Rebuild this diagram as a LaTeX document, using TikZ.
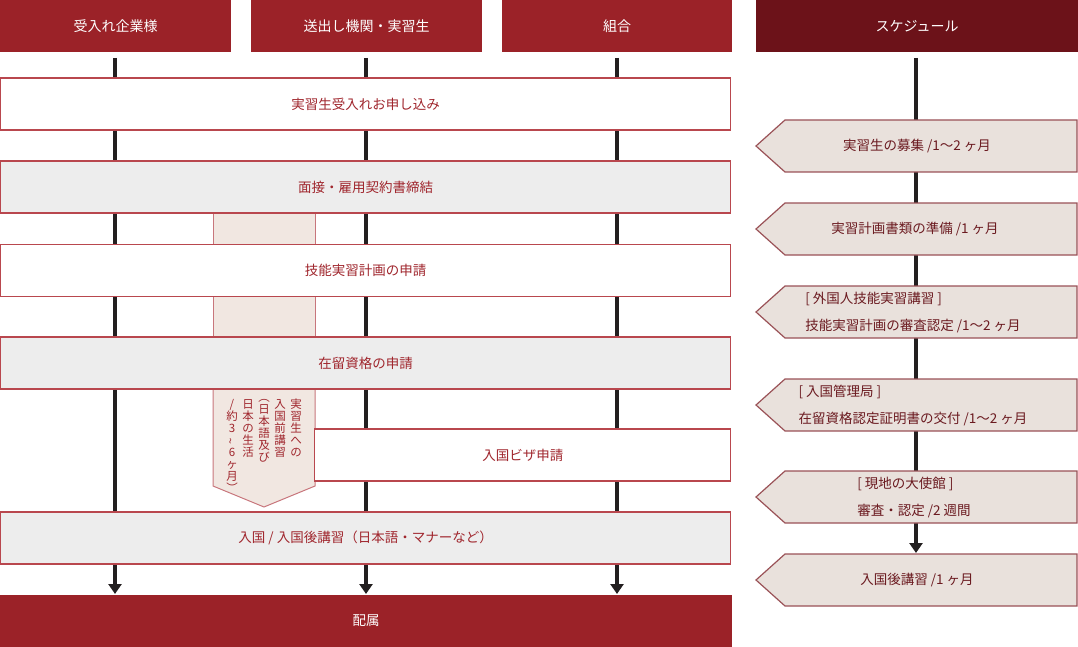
\documentclass[tikz,border=0pt]{standalone}
\usepackage{fontspec}
\setmainfont{Noto Sans CJK JP}
\usetikzlibrary{arrows.meta}
\pgfdeclarelayer{background}
\pgfsetlayers{background,main}
\definecolor{hdred}{HTML}{9B2228}
\definecolor{hddark}{HTML}{6C1219}
\definecolor{boxtext}{HTML}{A0262D}
\definecolor{boxline}{HTML}{B9474E}
\definecolor{boxgray}{HTML}{EDEDED}
\definecolor{pinkfill}{HTML}{F1E7E1}
\definecolor{pinkline}{HTML}{C8767C}
\definecolor{schedfill}{HTML}{E9E1DC}
\definecolor{schedline}{HTML}{9A5257}
\definecolor{schedtext}{HTML}{6B1A20}
\definecolor{linedark}{HTML}{231F20}
\begin{document}
\begin{tikzpicture}[x=1pt,y=-1pt,
  hdr/.style={fill=hdred, text=white, minimum height=52pt, inner sep=0pt, outer sep=0pt, font=\fontsize{14}{16}\selectfont},
  flowbox/.style={draw=boxline, line width=1.2pt, minimum width=730pt, minimum height=52pt, inner sep=0pt, outer sep=0pt, text=boxtext, font=\fontsize{13.5}{16}\selectfont},
  whitebox/.style={flowbox, fill=white},
  graybox/.style={flowbox, fill=boxgray},
  vline/.style={draw=linedark, line width=4pt},
  vlinearrow/.style={vline, -{Triangle[width=13pt,length=10pt]}, shorten >=1pt},
  pinkcol/.style={fill=pinkfill, draw=pinkline, line width=1pt},
  schedbody/.style={minimum width=292pt, minimum height=52pt, inner sep=0pt, outer sep=0pt},
  schedshape/.style={fill=schedfill, draw=schedline, line width=1.2pt},
  schedlabel/.style={text=schedtext, font=\fontsize{13.5}{27}\selectfont, align=left, inner sep=0pt},
  vtext/.style={text=boxtext, font=\fontsize{11.5}{12}\selectfont, align=center, inner sep=0pt, anchor=north}
]
\useasboundingbox (0,0) rectangle (1078,647);

% headers
\node[hdr, minimum width=231pt] (h1) at (115.5,26) {受入れ企業様};
\node[hdr, minimum width=231pt] (h2) at (366.5,26) {送出し機関・実習生};
\node[hdr, minimum width=230pt] (h3) at (617,26) {組合};
\node[hdr, fill=hddark, minimum width=322pt] (h4) at (917,26) {スケジュール};

% pink column pieces and pre-entry arrow
\draw[pinkcol] (213,213) rectangle (315,245);
\draw[pinkcol] (213,296) rectangle (315,337);
\draw[pinkcol] (213,388) -- (315,388) -- (315,486) -- (264,507) -- (213,486) -- cycle;

% flow boxes
\node[whitebox] (b1) at (365.6,104) {実習生受入れお申し込み};
\node[graybox] (b2) at (365.6,187) {面接・雇用契約書締結};
\node[whitebox] (b3) at (365.6,270.5) {技能実習計画の申請};
\node[graybox] (b4) at (365.6,363) {在留資格の申請};
\node[whitebox, minimum width=416pt] (b5) at (522.8,455) {入国ビザ申請};
\node[graybox] (b6) at (365.6,538) {入国 / 入国後講習（日本語・マナーなど）};
\node[fill=hdred, text=white, minimum width=732pt, minimum height=52pt, inner sep=0pt, outer sep=0pt, font=\fontsize{13.5}{16}\selectfont] (b7) at (366,621) {配属};

% vertical text in the pre-entry arrow
\node[vtext] (v1) at (296,399) {実\\習\\生\\へ\\の};
\node[vtext] (v2) at (280,399) {入\\国\\前\\講\\習};
\node[vtext] (v3) at (264,399) {︵\\日\\本\\語\\及\\び};
\node[vtext] (v4) at (248,399) {日\\本\\の\\生\\活};
\node[vtext] (v5) at (232,399) {/\\約\\3\\\rotatebox{90}{\textasciitilde}\\6\\ヶ\\月\\︶};

% column line tops
\coordinate (t1) at (115,58);
\coordinate (t2) at (366,58);
\coordinate (t3) at (617,58);
\coordinate (t4) at (916,58);

% schedule boxes
\node[schedbody] (s1) at (931,146) {};
\node[schedbody] (s2) at (931,229) {};
\node[schedbody] (s3) at (931,312) {};
\node[schedbody] (s4) at (931,405) {};
\node[schedbody] (s5) at (931,497) {};
\node[schedbody] (s6) at (931,580) {};
\foreach \s in {s1,s2,s3,s4,s5,s6}{
  \draw[schedshape] (\s.north west) -- (\s.north east) -- (\s.south east) -- (\s.south west) -- ([xshift=-29pt]\s.west) -- cycle;
}
\node[schedlabel] (l1) at (917,146) {実習生の募集 /1〜2 ヶ月};
\node[schedlabel] (l2) at (915,229) {実習計画書類の準備 /1 ヶ月};
\node[schedlabel] (l3) at (913,312.5) {[ 外国人技能実習講習 ]\\技能実習計画の審査認定 /1〜2 ヶ月};
\node[schedlabel] (l4) at (913,406) {[ 入国管理局 ]\\在留資格認定証明書の交付 /1〜2 ヶ月};
\node[schedlabel] (l5) at (914,497.5) {[ 現地の大使館 ]\\審査・認定 /2 週間};
\node[schedlabel] (l6) at (917,580) {入国後講習 /1 ヶ月};

% connectors behind
\begin{pgfonlayer}{background}
\draw[vlinearrow] (t1) -- (t1 |- b7.north);
\draw[vlinearrow] (t2) -- (t2 |- b7.north);
\draw[vlinearrow] (t3) -- (t3 |- b7.north);
\draw[vlinearrow] (t4) -- (t4 |- s6.north);
\end{pgfonlayer}
\end{tikzpicture}
\end{document}
